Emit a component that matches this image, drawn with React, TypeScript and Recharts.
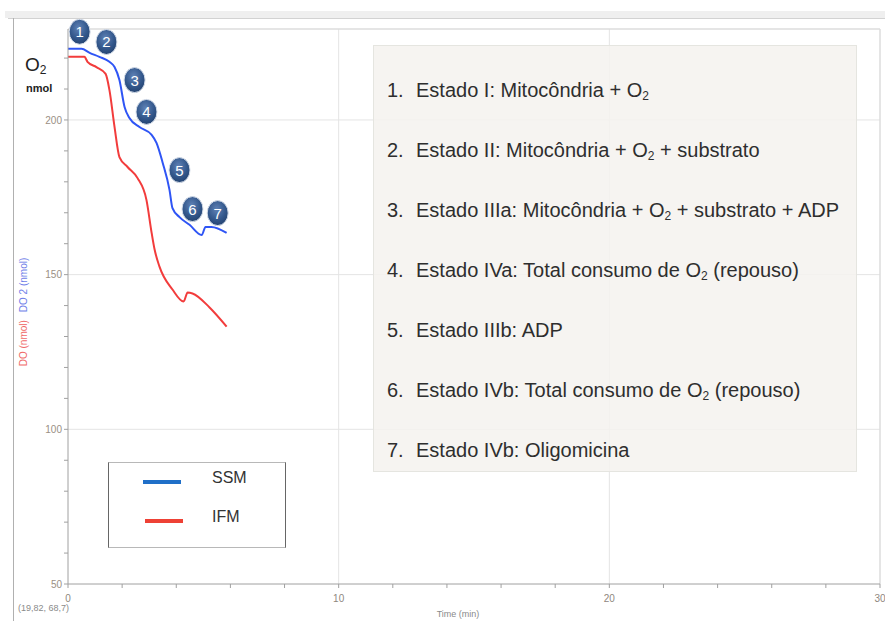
import React from 'react';
import { ComposedChart, Line, Scatter, XAxis, YAxis, ReferenceLine, Legend } from 'recharts';

// SSM (blue) trace: time (min) and O2 (nmol)
const ssmTime = [0, 0.5, 0.8, 1.16, 1.53, 1.72, 1.9, 2.09, 2.27, 2.64, 3.09, 3.27, 3.5, 3.75, 3.86, 4.12, 4.49, 4.94, 5.08, 5.3, 5.86];
const ssmO2 = [223.0, 223.0, 221.7, 220.4, 218.8, 217.1, 212.9, 204.2, 200.6, 197.7, 195.2, 192.6, 186.1, 177.4, 171.5, 168.6, 166.1, 162.8, 165.4, 165.4, 163.5];

// IFM (red) trace
const ifmTime = [0, 0.61, 0.72, 1.05, 1.39, 1.53, 1.72, 1.9, 2.2, 2.57, 2.9, 3.09, 3.2, 3.38, 3.86, 4.27, 4.42, 4.6, 5.23, 5.86];
const ifmO2 = [220.4, 220.4, 218.8, 217.1, 214.9, 209.7, 197.7, 188.0, 184.8, 181.2, 174.1, 163.5, 158.1, 152.6, 145.2, 141.3, 144.2, 143.9, 139.4, 133.2];

// numbered state markers
const markerTime = [0.43, 1.42, 2.46, 2.9, 4.12, 4.6, 5.53];
const markerO2 = [228.5, 225.2, 212.9, 202.6, 183.8, 171.2, 169.9];
const markerLabels = ['1', '2', '3', '4', '5', '6', '7'];

const xTicks = [0, 2, 4, 6, 8, 10, 12, 14, 16, 18, 20, 22, 24, 26, 28, 30];
const xMajor = [10, 20];
const yTicks = [50, 60, 70, 80, 90, 100, 110, 120, 130, 140, 150, 160, 170, 180, 190, 200, 210, 220];
const yMajor = [100, 150, 200];
const X_MAX = 30;
const Y_MIN = 50;
const Y_MAX = 229.4;

const seriesNames = ['SSM', 'IFM'];
const lineColors = ['#2f55f5', '#f23c3c'];
const legendColors = ['#1f6fc8', '#ee4135'];

const stateLines = [
  '1. |Estado I: Mitocôndria + O2',
  '2. |Estado II: Mitocôndria + O2 + substrato',
  '3. |Estado IIIa: Mitocôndria + O2 + substrato + ADP',
  '4. |Estado IVa: Total consumo de O2 (repouso)',
  '5. |Estado IIIb: ADP',
  '6. |Estado IVb: Total consumo de O2 (repouso)',
  '7. |Estado IVb: Oligomicina',
];

const ssmData = ssmTime.map((t, i) => ({ t, v: ssmO2[i] }));
const ifmData = ifmTime.map((t, i) => ({ t, v: ifmO2[i] }));
const markerData = markerTime.map((t, i) => ({ t, v: markerO2[i], label: markerLabels[i] }));

const FONT = '"Liberation Sans", Arial, Helvetica, sans-serif';

function withSub(s: string) {
  const parts = s.split('O2');
  const out: React.ReactNode[] = [];
  parts.forEach((p, i) => {
    out.push(<span key={'p' + i}>{p}</span>);
    if (i < parts.length - 1) {
      out.push(
        <span key={'o' + i}>
          O<sub style={{ fontSize: '0.6em', verticalAlign: '-0.25em' }}>2</sub>
        </span>
      );
    }
  });
  return out;
}

const MarkerShape = (props: any) => {
  const { cx, cy, payload } = props;
  if (cx == null || cy == null) return null;
  const id = 'mkg' + payload.label;
  return (
    <g>
      <defs>
        <radialGradient id={id} cx="45%" cy="35%" r="70%">
          <stop offset="0%" stopColor="#5f82b6" />
          <stop offset="60%" stopColor="#33578b" />
          <stop offset="100%" stopColor="#22406c" />
        </radialGradient>
      </defs>
      <ellipse cx={cx} cy={cy} rx={10.5} ry={12.5} fill={`url(#${id})`} stroke="#d6deea" strokeWidth={1} />
      <text x={cx} y={cy + 5.5} textAnchor="middle" fontSize={15} fill="#ffffff" fontFamily={FONT}>
        {payload.label}
      </text>
    </g>
  );
};

const renderLegend = () => (
  <div
    style={{
      boxSizing: 'border-box',
      width: 178,
      height: 86,
      borderTop: '1px solid #b8b8b8',
      borderBottom: '1px solid #b8b8b8',
      borderLeft: '1.5px solid #666',
      borderRight: '1.5px solid #666',
      background: '#ffffff',
      position: 'relative',
      fontFamily: FONT,
    }}
  >
    {seriesNames.map((name, i) => (
      <div key={name}>
        <div
          style={{
            position: 'absolute',
            left: 34 + i * 2,
            top: 17 + i * 39,
            width: 38,
            height: 4,
            background: legendColors[i],
          }}
        />
        <div
          style={{
            position: 'absolute',
            left: 103,
            top: 6 + i * 39,
            fontSize: 16,
            lineHeight: '18px',
            color: '#333',
          }}
        >
          {name}
        </div>
      </div>
    ))}
  </div>
);

const YLabel = () => {
  const cx = 27;
  const cy = 312;
  return (
    <text
      x={cx}
      y={cy}
      transform={`rotate(-90, ${cx}, ${cy})`}
      textAnchor="middle"
      fontSize={10}
      fontFamily={FONT}
    >
      <tspan fill="#f06a6a">DO (nmol)</tspan>
      <tspan fill="#6f80e8" dx={8}>DO 2 (nmol)</tspan>
    </text>
  );
};

export default function App() {
  return (
    <div style={{ position: 'relative', width: 885, height: 621, background: '#fff', overflow: 'hidden', fontFamily: FONT }}>
      <style>{'body{margin:0}'}</style>
      {/* window frame */}
      <div style={{ position: 'absolute', left: 5, right: 0, top: 11, height: 7, background: '#efefef' }} />
      <div style={{ position: 'absolute', left: 8, right: 0, top: 18, height: 1, background: '#d2d2d2' }} />
      <div style={{ position: 'absolute', left: 12.5, width: 1.5, top: 18, bottom: 0, background: '#b0b0b0' }} />

      <div style={{ position: 'absolute', left: 0, top: 0 }}>
        <ComposedChart width={885} height={621} margin={{ top: 29, right: 5, bottom: 7, left: 20 }}>
          <XAxis
            dataKey="t"
            type="number"
            domain={[0, X_MAX]}
            ticks={xTicks}
            interval={0}
            tickFormatter={(v: number) => (v % 10 === 0 ? String(v) : '')}
            tick={{ fontSize: 10, fill: '#8f877e', fontFamily: FONT }}
            tickSize={4}
            tickMargin={7}
            stroke="#a0a0a0"
            height={30}
            label={{ value: 'Time (min)', position: 'insideBottom', offset: -3, dx: -16, fontSize: 9, fill: '#8a8a8a', fontFamily: FONT }}
          />
          <YAxis
            type="number"
            domain={[Y_MIN, Y_MAX]}
            ticks={yTicks}
            interval={0}
            tickFormatter={(v: number) => (v % 50 === 0 ? String(v) : '')}
            tick={{ fontSize: 10, fill: '#9a8f84', fontFamily: FONT }}
            tickSize={4}
            tickMargin={2}
            stroke="#a0a0a0"
            width={48}
            label={<YLabel />}
          />
          {xMajor.map((x) => (
            <ReferenceLine key={'gx' + x} x={x} stroke="#e4e4e4" strokeWidth={1} />
          ))}
          {yMajor.map((y) => (
            <ReferenceLine key={'gy' + y} y={y} stroke="#e4e4e4" strokeWidth={1} />
          ))}
          <ReferenceLine y={Y_MAX} stroke="#dcdcdc" strokeWidth={1.5} />
          <ReferenceLine x={X_MAX} stroke="#dcdcdc" strokeWidth={1.5} />
          <Line
            data={ssmData}
            dataKey="v"
            name={seriesNames[0]}
            type="monotone"
            stroke={lineColors[0]}
            strokeWidth={2}
            dot={false}
            activeDot={false}
            isAnimationActive={false}
          />
          <Line
            data={ifmData}
            dataKey="v"
            name={seriesNames[1]}
            type="monotone"
            stroke={lineColors[1]}
            strokeWidth={2}
            dot={false}
            activeDot={false}
            isAnimationActive={false}
          />
          <Scatter
            data={markerData}
            dataKey="v"
            legendType="none"
            shape={<MarkerShape />}
            isAnimationActive={false}
          />
          <Legend
            layout="horizontal"
            verticalAlign="middle"
            align="center"
            content={renderLegend}
            wrapperStyle={{ position: 'absolute', left: 108, top: 462, width: 178, height: 86 }}
          />
        </ComposedChart>
      </div>

      {/* O2 nmol header */}
      <div style={{ position: 'absolute', left: 25, top: 54, fontSize: 19, color: '#222', lineHeight: '22px' }}>
        O<sub style={{ fontSize: 12, verticalAlign: '-3px' }}>2</sub>
      </div>
      <div style={{ position: 'absolute', left: 26, top: 82, fontSize: 11, color: '#222', fontWeight: 600, lineHeight: '13px' }}>nmol</div>

      {/* origin readout */}
      <div style={{ position: 'absolute', left: 18, top: 603, fontSize: 9, color: '#8a8a8a', lineHeight: '11px' }}>(19,82, 68,7)</div>

      {/* states annotation box */}
      <div
        style={{
          position: 'absolute',
          left: 373,
          top: 45,
          width: 484,
          height: 427,
          background: 'rgba(244,242,238,0.85)',
          border: '1px solid rgba(225,225,220,0.8)',
          boxSizing: 'border-box',
        }}
      >
        {stateLines.map((s, i) => {
          const [num, txt] = s.split('|');
          return (
            <div
              key={i}
              style={{
                position: 'absolute',
                left: 13,
                top: 32 + i * 60,
                fontSize: 20,
                lineHeight: '24px',
                color: '#2e2e2e',
                whiteSpace: 'nowrap',
                display: 'flex',
              }}
            >
              <span style={{ width: 29, display: 'inline-block' }}>{num.trim()}</span>
              <span>{withSub(txt)}</span>
            </div>
          );
        })}
      </div>
    </div>
  );
}
